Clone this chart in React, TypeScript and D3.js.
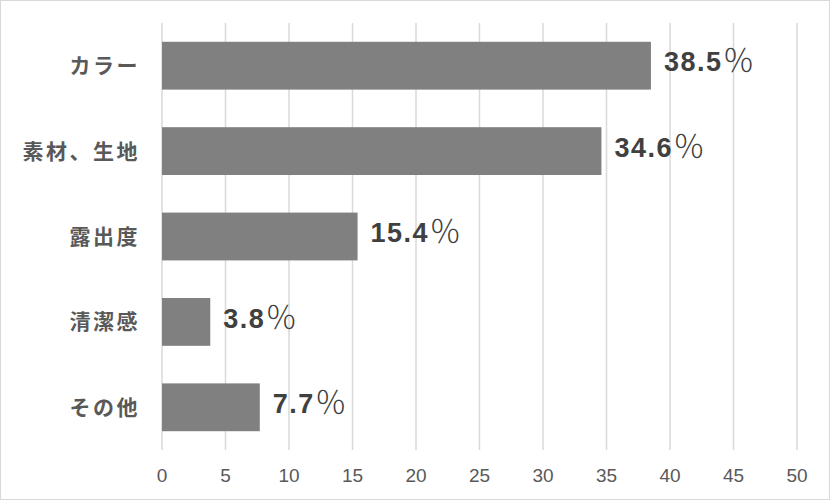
import React from "react";
import * as d3 from "d3";

const categories = ["カラー", "素材、生地", "露出度", "清潔感", "その他"];
const values = [38.5, 34.6, 15.4, 3.8, 7.7];
const xTicks = [0, 5, 10, 15, 20, 25, 30, 35, 40, 45, 50];

export default function App() {
  const W = 830, H = 500;
  const left = 162, right = 797, top = 23, bottom = 450;
  const x = d3.scaleLinear().domain([0, 50]).range([left, right]);
  const y = d3.scaleBand().domain(categories).range([top, bottom]).paddingInner(0.44).paddingOuter(0.22);
  const cjk = "'Noto Sans CJK JP', 'Noto Sans', sans-serif";
  const latin = "'Liberation Sans', Arial, sans-serif";
  const tickFont = "'Liberation Sans Narrow', 'Liberation Sans', Arial, sans-serif";
  return (
    <svg width={W} height={H} style={{ position: "absolute", left: 0, top: 0 }}>
      <rect x={0.5} y={0.5} width={W - 1} height={H - 1} fill="#fff" stroke="#d9d9d9" />
      {xTicks.map((t) => (
        <line key={t} x1={x(t)} x2={x(t)} y1={top} y2={bottom} stroke="#d9d9d9" strokeWidth={1.5} />
      ))}
      {categories.map((c, i) => (
        <g key={c}>
          <rect x={x(0)} y={y(c)!} width={x(values[i]) - x(0)} height={y.bandwidth()} fill="#808080" />
          <text x={140} y={y(c)! + y.bandwidth() / 2} dy="0.36em" textAnchor="end" fontFamily={cjk} fontSize={21} letterSpacing={2.5} fontWeight={700} fill="#595959">{c}</text>
          <text x={x(values[i]) + 13} y={y(c)! + y.bandwidth() / 2} dy="0.36em" fill="#404040">
            <tspan fontFamily={latin} fontSize={27} fontWeight={700} letterSpacing={1.5}>{values[i].toFixed(1)}</tspan>
            <tspan fontFamily={cjk} fontSize={32} fontWeight={300} dy="1">％</tspan>
          </text>
        </g>
      ))}
      {xTicks.map((t) => (
        <text key={t} x={x(t)} y={475} dy="0.36em" textAnchor="middle" fontFamily={tickFont} fontSize={19} fill="#595959">{t}</text>
      ))}
    </svg>
  );
}
